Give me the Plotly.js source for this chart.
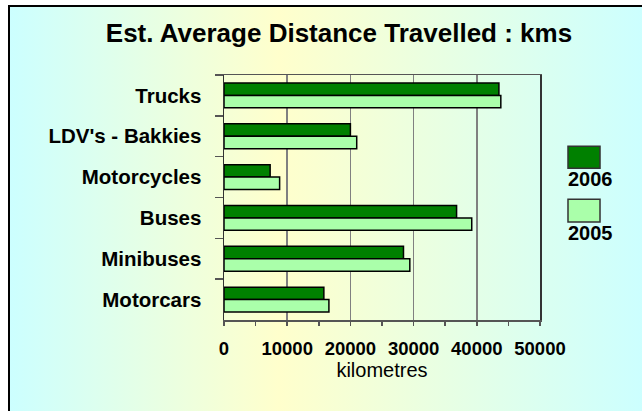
<!DOCTYPE html>
<html>
<head>
<meta charset="utf-8">
<script src="https://cdn.plot.ly/plotly-3.0.1.min.js"></script>
<style>
  html, body { margin: 0; padding: 0; background: #ffffff; overflow: hidden; }
  #frame {
    position: absolute; left: 8px; top: 5px; width: 700px; height: 500px;
    border-left: 2px solid #000; border-top: 2px solid #000;
    background: linear-gradient(to right, #ccffff 0px, #ffffcc 269px, #ccffff 634px);
  }
  #chart { position: absolute; left: 0; top: 0; width: 642px; height: 411px; }
</style>
</head>
<body>
<div id="frame"></div>
<div id="chart"></div>
<script>
// ---- data ----
const categories = ["Trucks", "LDV's - Bakkies", "Motorcycles", "Buses", "Minibuses", "Motorcars"];
const seriesNames = ["2006", "2005"];
const values2006 = [43500, 20000, 7300, 36800, 28400, 15800];
const values2005 = [43800, 21000, 8800, 39200, 29400, 16600];
const xTickValues = [0, 10000, 20000, 30000, 40000, 50000];

// ---- styles ----
const colors = ["#008000", "#aaffaa"];
const FONT = "Liberation Sans, Arial, Helvetica, sans-serif";

const traces = [values2006, values2005].map((vals, i) => ({
  type: "bar",
  orientation: "h",
  name: seriesNames[i],
  y: categories,
  x: vals,
  marker: { color: colors[i], line: { color: "#000000", width: 1.5 } },
  showlegend: false,
  hoverinfo: "x+y+name"
}));

// custom legend: box above label
const legendBoxes = [
  { x0: 1.0886, x1: 1.1899, y0: 0.6197, y1: 0.7093 },
  { x0: 1.0886, x1: 1.1899, y0: 0.3995, y1: 0.4933 }
];
const shapes = legendBoxes.map((b, i) => ({
  type: "rect", xref: "paper", yref: "paper",
  x0: b.x0, x1: b.x1, y0: b.y0, y1: b.y1,
  fillcolor: colors[i], line: { color: "#333333", width: 1.5 }
}));
const annotations = legendBoxes.map((b, i) => ({
  xref: "paper", yref: "paper",
  x: b.x0 - 0.006, y: b.y0 + 0.01,
  xanchor: "left", yanchor: "top",
  text: seriesNames[i], showarrow: false,
  font: { family: FONT, size: 20, color: "#000000", weight: "bold" }
}));

const layout = {
  width: 642, height: 411,
  paper_bgcolor: "rgba(0,0,0,0)",
  plot_bgcolor: "rgba(0,0,0,0)",
  margin: { l: 224, r: 102, t: 75, b: 91, pad: 0 },
  font: { family: FONT, color: "#000000" },
  title: {
    text: "Est. Average Distance Travelled : kms",
    font: { family: FONT, size: 26, weight: "bold", color: "#000000" },
    x: 0.528, xref: "container", xanchor: "center",
    y: 0.92, yref: "container", yanchor: "middle"
  },
  barmode: "group",
  bargap: 0.39,
  bargroupgap: 0,
  xaxis: {
    range: [0, 50000],
    tickvals: xTickValues,
    ticktext: xTickValues.map(String),
    showgrid: true, gridcolor: "#808080", gridwidth: 1.5,
    zeroline: false,
    showline: true, linecolor: "#555555", linewidth: 1.5, mirror: true,
    ticks: "outside", ticklen: 4, tickcolor: "#555555", tickwidth: 1.5,
    minor: { dtick: 5000, tick0: 0, ticks: "outside", ticklen: 4, tickcolor: "#555555", showgrid: false },
    tickfont: { family: FONT, size: 18.5, weight: "bold", color: "#000000" },
    ticklabelstandoff: 7,
    title: { text: "kilometres", font: { family: FONT, size: 20, color: "#000000" }, standoff: 3 },
    fixedrange: true
  },
  yaxis: {
    type: "category",
    autorange: "reversed",
    tickson: "boundaries",
    ticks: "outside", ticklen: 8, tickcolor: "#555555", tickwidth: 1.5,
    showgrid: false, zeroline: false,
    showline: true, linecolor: "#333333", linewidth: 1.5, mirror: true,
    tickfont: { family: FONT, size: 20.5, weight: "bold", color: "#000000" },
    ticklabelstandoff: 17,
    fixedrange: true
  },
  shapes: shapes,
  annotations: annotations
};

Plotly.newPlot("chart", traces, layout, { displayModeBar: false, staticPlot: true });
</script>
</body>
</html>
